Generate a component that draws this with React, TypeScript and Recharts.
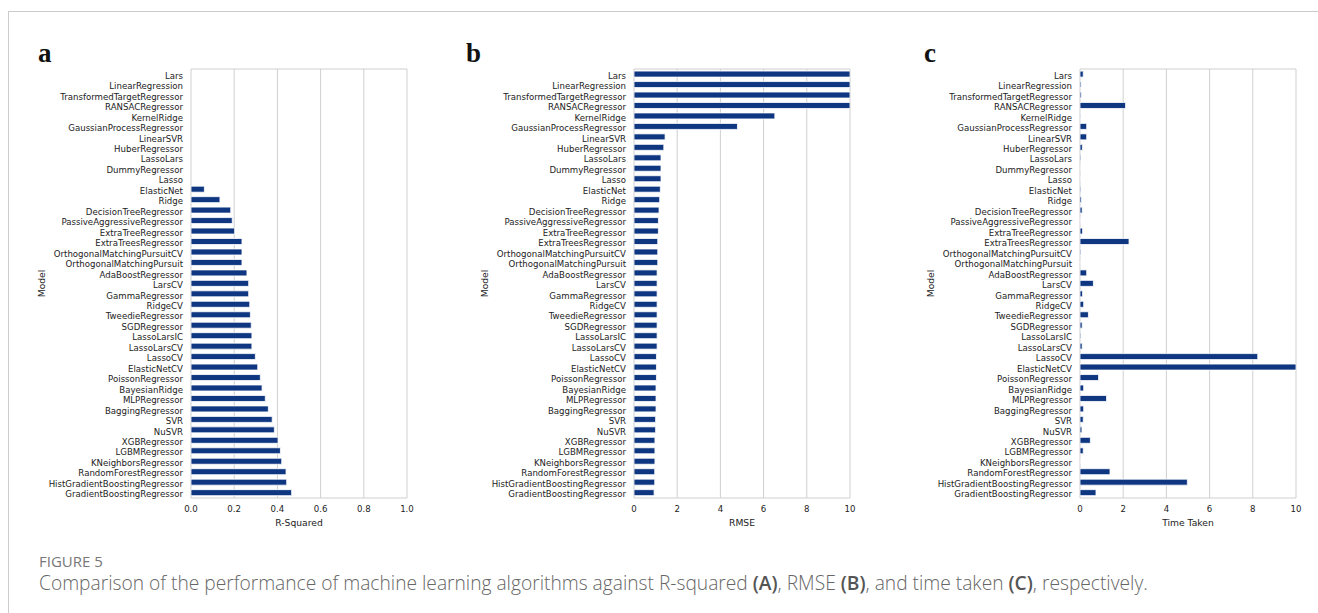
import React from "react";
import { BarChart, Bar, XAxis, YAxis, CartesianGrid } from "recharts";

const models = [
  "Lars",
  "LinearRegression",
  "TransformedTargetRegressor",
  "RANSACRegressor",
  "KernelRidge",
  "GaussianProcessRegressor",
  "LinearSVR",
  "HuberRegressor",
  "LassoLars",
  "DummyRegressor",
  "Lasso",
  "ElasticNet",
  "Ridge",
  "DecisionTreeRegressor",
  "PassiveAggressiveRegressor",
  "ExtraTreeRegressor",
  "ExtraTreesRegressor",
  "OrthogonalMatchingPursuitCV",
  "OrthogonalMatchingPursuit",
  "AdaBoostRegressor",
  "LarsCV",
  "GammaRegressor",
  "RidgeCV",
  "TweedieRegressor",
  "SGDRegressor",
  "LassoLarsIC",
  "LassoLarsCV",
  "LassoCV",
  "ElasticNetCV",
  "PoissonRegressor",
  "BayesianRidge",
  "MLPRegressor",
  "BaggingRegressor",
  "SVR",
  "NuSVR",
  "XGBRegressor",
  "LGBMRegressor",
  "KNeighborsRegressor",
  "RandomForestRegressor",
  "HistGradientBoostingRegressor",
  "GradientBoostingRegressor",
];

// negative scores are cut off by the 0..1 axis, kept at 0 here
const rSquared = [
  0, 0, 0, 0, 0, 0, 0, 0, 0, 0, 0, 0.062, 0.134, 0.184, 0.191, 0.202, 0.236,
  0.236, 0.236, 0.259, 0.267, 0.267, 0.272, 0.275, 0.279, 0.282, 0.282, 0.298,
  0.309, 0.321, 0.329, 0.344, 0.358, 0.376, 0.386, 0.403, 0.414, 0.42, 0.44,
  0.443, 0.466,
];

const rmse = [
  10, 10, 10, 10, 6.52, 4.79, 1.44, 1.38, 1.25, 1.25, 1.25, 1.22, 1.19, 1.16,
  1.13, 1.13, 1.1, 1.1, 1.1, 1.07, 1.07, 1.07, 1.07, 1.07, 1.07, 1.07, 1.07,
  1.04, 1.04, 1.04, 1.02, 1.02, 1.02, 1.0, 1.0, 0.97, 0.97, 0.97, 0.96, 0.96,
  0.93,
];

const timeTaken = [
  0.15, 0.05, 0.06, 2.11, 0.03, 0.31, 0.31, 0.11, 0.04, 0.005, 0.01, 0.04,
  0.07, 0.1, 0.01, 0.12, 2.27, 0.04, 0.01, 0.31, 0.62, 0.12, 0.17, 0.39, 0.1,
  0.04, 0.1, 8.23, 10, 0.86, 0.17, 1.23, 0.17, 0.15, 0.09, 0.48, 0.15, 0.01,
  1.39, 4.97, 0.74,
];

const r2Ticks = [0, 0.2, 0.4, 0.6, 0.8, 1.0];
const tenTicks = [0, 2, 4, 6, 8, 10];

const BAR = "#0f3781";
const GRID = "#cfcfcf";
const FONT = "DejaVu Sans, sans-serif";
const TICK_SIZE = 8.6;

const AXIS_W = 180;
const PLOT_W = 216;
const PLOT_TOP = 69;
const PLOT_H = 429;

type PanelProps = {
  plotLeft: number;
  values: number[];
  max: number;
  ticks: number[];
  fmt: (v: number) => string;
  xLabel: string;
  letter: string;
  letterLeft: number;
};

function Panel({ plotLeft, values, max, ticks, fmt, xLabel, letter, letterLeft }: PanelProps) {
  const rows = models.map((m, i) => ({ model: m, value: values[i] }));
  return (
    <>
      <div
        style={{
          position: "absolute",
          left: letterLeft,
          top: 38,
          fontFamily: "Liberation Serif, serif",
          fontWeight: 700,
          fontSize: 27,
          lineHeight: "30px",
          color: "#111",
        }}
      >
        {letter}
      </div>
      <div style={{ position: "absolute", left: plotLeft - AXIS_W, top: 0 }}>
        <BarChart
          width={AXIS_W + PLOT_W + 10}
          height={PLOT_TOP + PLOT_H + 40}
          data={rows}
          layout="vertical"
          margin={{ top: PLOT_TOP, right: 10, bottom: 0, left: 0 }}
          barCategoryGap="20%"
        >
          <CartesianGrid
            stroke={GRID}
            strokeWidth={1}
            horizontalCoordinatesGenerator={({ offset }: any) => [
              offset.top,
              offset.top + offset.height,
            ]}
          />
          <XAxis
            type="number"
            domain={[0, max]}
            ticks={ticks}
            allowDataOverflow
            tickFormatter={fmt}
            height={40}
            axisLine={false}
            tickLine={false}
            tickSize={0}
            tickMargin={8}
            tick={{ fontSize: TICK_SIZE, fill: "#222", fontFamily: FONT }}
            label={{
              content: ({ viewBox }: any) => (
                <text
                  x={viewBox.x + viewBox.width / 2}
                  y={viewBox.y + 24}
                  textAnchor="middle"
                  dominantBaseline="central"
                  fontSize={9.2}
                  fontFamily={FONT}
                  fill="#222"
                >
                  {xLabel}
                </text>
              ),
            }}
          />
          <YAxis
            type="category"
            dataKey="model"
            width={AXIS_W}
            interval={0}
            axisLine={false}
            tickLine={false}
            tickSize={0}
            tickMargin={8}
            tick={{ fontSize: TICK_SIZE, fill: "#222", fontFamily: FONT, dy: 1.5 }}
            label={{
              content: ({ viewBox }: any) => {
                const x = viewBox.x + 30;
                const y = viewBox.y + viewBox.height / 2;
                return (
                  <text
                    x={x}
                    y={y}
                    transform={`rotate(-90 ${x} ${y})`}
                    textAnchor="middle"
                    dominantBaseline="central"
                    fontSize={9.2}
                    fontFamily={FONT}
                    fill="#222"
                  >
                    Model
                  </text>
                );
              },
            }}
          />
          <Bar
            dataKey="value"
            fill={BAR}
            stroke="#fff"
            strokeWidth={0.8}
            isAnimationActive={false}
          />
        </BarChart>
      </div>
    </>
  );
}

export default function App() {
  return (
    <div
      style={{
        position: "absolute",
        left: 0,
        top: 0,
        width: 1318,
        height: 613,
        background: "#fff",
        overflow: "hidden",
      }}
    >
      <div
        style={{
          position: "absolute",
          left: 8,
          top: 11,
          width: 1318,
          height: 700,
          borderTop: "1px solid #cccccc",
          borderLeft: "1px solid #cccccc",
        }}
      />
      <Panel
        plotLeft={191}
        values={rSquared}
        max={1}
        ticks={r2Ticks}
        fmt={(v) => v.toFixed(1)}
        xLabel="R-Squared"
        letter="a"
        letterLeft={38}
      />
      <Panel
        plotLeft={634}
        values={rmse}
        max={10}
        ticks={tenTicks}
        fmt={(v) => String(v)}
        xLabel="RMSE"
        letter="b"
        letterLeft={466}
      />
      <Panel
        plotLeft={1080}
        values={timeTaken}
        max={10}
        ticks={tenTicks}
        fmt={(v) => String(v)}
        xLabel="Time Taken"
        letter="c"
        letterLeft={924}
      />
      <div
        style={{
          position: "absolute",
          left: 39,
          top: 553,
          fontFamily: "Open Sans, sans-serif",
          fontSize: 15,
          lineHeight: "16px",
          color: "#777",
        }}
      >
        FIGURE 5
      </div>
      <div
        style={{
          position: "absolute",
          left: 39,
          top: 573,
          fontFamily: "Open Sans, sans-serif",
          fontWeight: 300,
          fontSize: 19.2,
          lineHeight: "20px",
          color: "#666",
          whiteSpace: "nowrap",
        }}
      >
        Comparison of the performance of machine learning algorithms against R-squared{" "}
        <b style={{ fontWeight: 600, color: "#555" }}>(A)</b>, RMSE{" "}
        <b style={{ fontWeight: 600, color: "#555" }}>(B)</b>, and time taken{" "}
        <b style={{ fontWeight: 600, color: "#555" }}>(C)</b>, respectively.
      </div>
    </div>
  );
}
